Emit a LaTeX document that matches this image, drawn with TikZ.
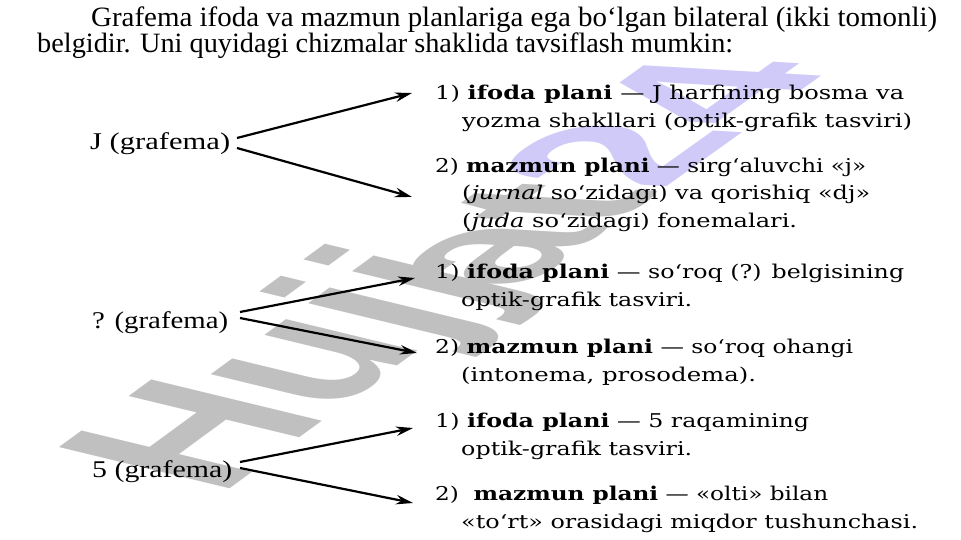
\documentclass[tikz,border=0pt]{standalone}
\usepackage{graphicx}
\usepackage{fontspec}
\setmainfont{Liberation Serif}
\newfontfamily\rtfont{DejaVu Serif}
\newfontfamily\wmfont{Liberation Sans}
\usetikzlibrary{arrows.meta}
\definecolor{wmgrey}{RGB}{192,192,192}
\definecolor{wmlav}{RGB}{208,202,248}
\newsavebox\fitbox
\newdimen\fitwd
\newcommand\fitto[2]{\sbox\fitbox{#2}\fitwd=\wd\fitbox\pgfmathsetmacro\fitfac{#1/\fitwd}\scalebox{\fitfac}[1]{\usebox\fitbox}}
\begin{document}
\begin{tikzpicture}[x=1pt,y=-1pt,
  hd/.style={anchor=base west,inner sep=0pt,font=\fontsize{28}{28}\selectfont},
  lbl/.style={anchor=base west,inner sep=0pt,font=\fontsize{24}{24}\selectfont},
  rt/.style={anchor=base west,inner sep=0pt,font=\rtfont\fontsize{19}{19}\selectfont},
  wm/.style={anchor=base west,inner sep=0pt,font=\wmfont\bfseries\fontsize{100}{100}\selectfont},
  arr/.style={-{Stealth[length=17pt,width=9.5pt]},line width=2.2pt}]
\useasboundingbox[fill=white] (0,0) rectangle (961,540);

% watermark (two parts, the word bends slightly)
\begin{scope}[cm={1.57,1.15,-2.48,0.60,(219,497)}]
\node[wm,transform shape] (wm1) at (0,0) {\textcolor{wmgrey}{Hujj}};
\end{scope}
\begin{scope}[cm={1.57,1.12,-2.58,0.15,(522,290)}]
\node[wm,transform shape] (wm2) at (0,0) {\textcolor{wmgrey}{at}\textcolor{wmlav}{24}};
\end{scope}

% heading
\node[hd] (h1) at (91,27) {\fitto{846pt}{Grafema ifoda va mazmun planlariga ega bo‘lgan bilateral (ikki tomonli)}};
\node[hd] (h2) at (37,53) {\fitto{696pt}{belgidir. Uni quyidagi chizmalar shaklida tavsiflash mumkin:}};

% left labels
\node[lbl] (gJ) at (90,150) {\fitto{140pt}{J (grafema)}};
\node[lbl] (gQ) at (92,328) {\fitto{136pt}{? (grafema)}};
\node[lbl] (g5) at (92,477) {\fitto{140pt}{5 (grafema)}};

% right texts
\node[rt] (a1) at (435,100) {\fitto{469pt}{1) \textbf{ifoda plani} — J harfining bosma va}};
\node[rt] (a1b) at (462,128) {\fitto{450pt}{yozma shakllari (optik-grafik tasviri)}};
\node[rt] (a2) at (435,173) {\fitto{431pt}{2) \textbf{mazmun plani} — sirg‘aluvchi «j»}};
\node[rt] (a2b) at (462,200) {\fitto{408pt}{(\textit{jurnal} so‘zidagi) va qorishiq «dj»}};
\node[rt] (a2c) at (462,228) {\fitto{335pt}{(\textit{juda} so‘zidagi) fonemalari.}};

\node[rt] (b1) at (435,278) {\fitto{469pt}{1) \textbf{ifoda plani} — so‘roq (?) belgisining}};
\node[rt] (b1b) at (461,306) {\fitto{231pt}{optik-grafik tasviri.}};
\node[rt] (b2) at (435,353) {\fitto{418pt}{2) \textbf{mazmun plani} — so‘roq ohangi}};
\node[rt] (b2b) at (461,381) {\fitto{295pt}{(intonema, prosodema).}};

\node[rt] (c1) at (435,427) {\fitto{374pt}{1) \textbf{ifoda plani} — 5 raqamining}};
\node[rt] (c1b) at (461,455) {\fitto{231pt}{optik-grafik tasviri.}};
\node[rt] (c2) at (435,500) {\fitto{393pt}{2) \ \textbf{mazmun plani} — «olti» bilan}};
\node[rt] (c2b) at (461,528) {\fitto{457pt}{«to‘rt» orasidagi miqdor tushunchasi.}};

% arrow end points
\coordinate (jS1) at (237,138); \coordinate (jE1) at (412,93);
\coordinate (jS2) at (237,148); \coordinate (jE2) at (412,197);
\coordinate (qS1) at (240,312); \coordinate (qE1) at (415,278);
\coordinate (qS2) at (240,318); \coordinate (qE2) at (417,353);
\coordinate (fS1) at (240,462); \coordinate (fE1) at (413,428);
\coordinate (fS2) at (240,468); \coordinate (fE2) at (413,503);

\draw[arr] (jS1) -- (jE1);
\draw[arr] (jS2) -- (jE2);
\draw[arr] (qS1) -- (qE1);
\draw[arr] (qS2) -- (qE2);
\draw[arr] (fS1) -- (fE1);
\draw[arr] (fS2) -- (fE2);
\end{tikzpicture}
\end{document}
